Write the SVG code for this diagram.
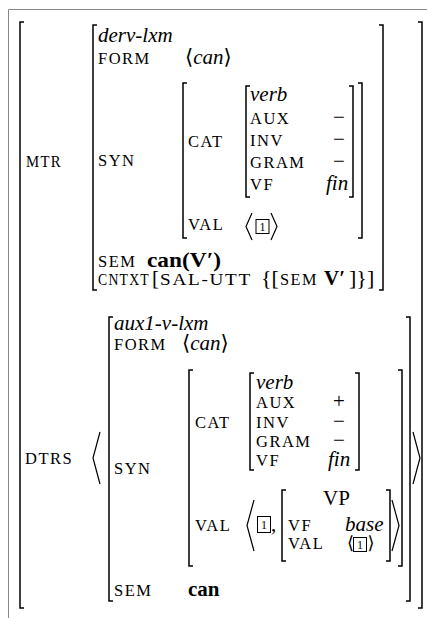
<svg xmlns="http://www.w3.org/2000/svg" width="427" height="618" viewBox="0 0 427 618">
<style>
text{font-family:"Liberation Serif","DejaVu Serif","DejaVu Sans",serif;fill:#000}
.sc{font-size:16.5px;letter-spacing:1.5px}
.it{font-size:21px;font-style:italic}
.rm{font-size:21px}
.lg{font-size:22px}
.bf{font-size:21px;font-weight:bold}
.sa{font-size:18px}
.num{font-size:12px;text-anchor:middle}
.br{fill:none;stroke:#000;stroke-width:1.5}
.ang{fill:none;stroke:#000;stroke-width:1.2}
.box{fill:none;stroke:#000;stroke-width:1}
.frame{fill:none;stroke:#888;stroke-width:1}
</style>
<path class="frame" d="M8.5 618 V9.5 H427"/>
<g id="outer">
<path class="br" d="M24 22 H20 V608 H24"/>
<path class="br" d="M418 22 H422 V608 H418"/>
</g>
<g id="mtr">
<text class="sc" x="26" y="167" textLength="36" lengthAdjust="spacingAndGlyphs">MTR</text>
<path class="br" d="M97 25 H93 V290 H97"/>
<path class="br" d="M379 25 H383 V290 H379"/>
<text class="it" x="98" y="42">derv-lxm</text>
<text class="sc" x="98" y="64">FORM</text>
<text class="rm" x="185" y="64">⟨<tspan class="it">can</tspan>⟩</text>
<text class="sc" x="98" y="166">SYN</text>
<path class="br" d="M187 83 H183 V238 H187"/>
<path class="br" d="M358 83 H362 V238 H358"/>
<text class="sc" x="188" y="147">CAT</text>
<path class="br" d="M250 86 H246 V197 H250"/>
<path class="br" d="M349 86 H353 V197 H349"/>
<text class="it" x="250" y="101">verb</text>
<text class="sc" x="250" y="124">AUX</text>
<text class="sc" x="250" y="146">INV</text>
<text class="sc" x="250" y="168">GRAM</text>
<text class="sc" x="250" y="190">VF</text>
<text class="rm" x="333" y="124">−</text>
<text class="rm" x="333" y="146">−</text>
<text class="rm" x="333" y="168">−</text>
<text class="it" x="326" y="190">fin</text>
<text class="sc" x="188" y="230">VAL</text>
<polyline class="ang" points="252,213 246,226.5 252,240"/>
<rect class="box" x="256" y="219.5" width="13" height="14"/>
<text class="num" x="262.5" y="231">1</text>
<polyline class="ang" points="271,213 277,226.5 271,240"/>
<text class="sc" x="98" y="267">SEM</text>
<text class="bf" x="147" y="267" textLength="74" lengthAdjust="spacingAndGlyphs">can(V′)</text>
<text class="sc" x="98" y="285" textLength="52" lengthAdjust="spacingAndGlyphs">CNTXT</text>
<text class="rm" x="152" y="285">[</text>
<text class="sc" x="160" y="285" textLength="92" lengthAdjust="spacingAndGlyphs">SAL-UTT</text>
<text class="lg" x="261" y="285">{[</text>
<text class="sc" x="280" y="285" textLength="38" lengthAdjust="spacingAndGlyphs">SEM</text>
<text class="bf" x="324" y="285">V′</text>
<text class="lg" x="349" y="285">]}]</text>
</g>
<g id="dtrs">
<text class="sc" x="25" y="464">DTRS</text>
<polyline class="ang" points="100,432 93,458 100,484"/>
<polyline class="ang" points="413,432 420,458 413,484"/>
<path class="br" d="M113 317 H109 V601 H113"/>
<path class="br" d="M406 317 H410 V601 H406"/>
<text class="it" x="114" y="330">aux1-v-lxm</text>
<text class="sc" x="114" y="350">FORM</text>
<text class="rm" x="182" y="350">⟨<tspan class="it">can</tspan>⟩</text>
<text class="sc" x="114" y="474">SYN</text>
<path class="br" d="M193 370 H189 V566 H193"/>
<path class="br" d="M398 370 H402 V566 H398"/>
<text class="sc" x="195" y="428">CAT</text>
<path class="br" d="M254 373 H250 V470 H254"/>
<path class="br" d="M355 373 H359 V470 H355"/>
<text class="it" x="256" y="389">verb</text>
<text class="sc" x="256" y="408">AUX</text>
<text class="sc" x="256" y="428">INV</text>
<text class="sc" x="256" y="447">GRAM</text>
<text class="sc" x="256" y="466">VF</text>
<text class="rm" x="333" y="408">+</text>
<text class="rm" x="333" y="428">−</text>
<text class="rm" x="333" y="447">−</text>
<text class="it" x="328" y="466">fin</text>
<text class="sc" x="195" y="531">VAL</text>
<text class="rm" x="323" y="505">VP</text>
<polyline class="ang" points="254,500 247,525.5 254,551"/>
<rect class="box" x="257.5" y="516.5" width="13" height="16"/>
<text class="num" x="264" y="529">1</text>
<text class="rm" x="271" y="531">,</text>
<path class="br" d="M286 490 H282 V561 H286"/>
<path class="br" d="M386 490 H390 V561 H386"/>
<polyline class="ang" points="392,500 399,525.5 392,551"/>
<text class="sc" x="288" y="531">VF</text>
<text class="it" x="345" y="531">base</text>
<text class="sc" x="288" y="549">VAL</text>
<text class="sa" x="347" y="549">⟨</text>
<rect class="box" x="353.5" y="537.5" width="13" height="14"/>
<text class="num" x="360" y="549">1</text>
<text class="sa" x="367.5" y="549">⟩</text>
<text class="sc" x="114" y="596">SEM</text>
<text class="bf" x="188" y="596">can</text>
</g>
</svg>
